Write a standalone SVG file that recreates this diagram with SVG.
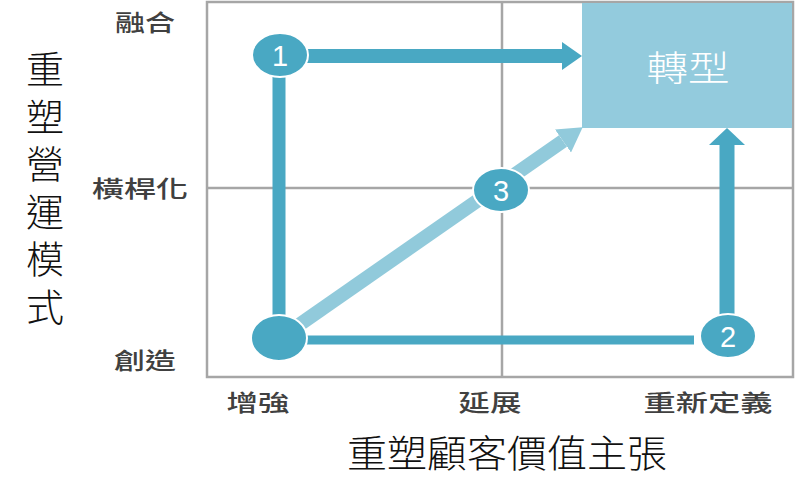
<svg xmlns="http://www.w3.org/2000/svg" width="800" height="501" viewBox="0 0 800 501">
<style>
.grid{fill:none;stroke:#a6a6a6;stroke-width:2.5}
.dark{stroke:#49a8c3;fill:none}
.light{stroke:#91cadb;fill:none}
.dot{fill:#49a8c3;stroke:#ffffff;stroke-width:2}
.num{font-family:"Liberation Sans",Arial,sans-serif;font-size:29px;fill:#ffffff;text-anchor:middle}
.lab{font-family:"Noto Sans CJK TC","Noto Sans CJK SC",sans-serif;font-size:23px;font-weight:500;fill:#404040;text-anchor:middle}
.title{font-family:"Noto Sans CJK TC","Noto Sans CJK SC",sans-serif;font-size:38px;font-weight:300;fill:#111111;text-anchor:middle}
</style>
<defs>
<marker id="headA" markerUnits="userSpaceOnUse" markerWidth="20" markerHeight="28" refX="0" refY="14" orient="auto"><path d="M0,0 L20,14 L0,28 Z" fill="#49a8c3"/></marker>
<marker id="headB" markerUnits="userSpaceOnUse" markerWidth="17" markerHeight="36" refX="0" refY="18" orient="auto"><path d="M0,0 L17,18 L0,36 Z" fill="#49a8c3"/></marker>
<marker id="headC" markerUnits="userSpaceOnUse" markerWidth="24" markerHeight="28" refX="0" refY="14" orient="auto"><path d="M0,0 L24,14 L0,28 Z" fill="#91cadb"/></marker>
</defs>
<rect width="800" height="501" fill="#ffffff"/>
<g id="grid">
<rect class="grid" x="207" y="2" width="586" height="375"/>
<line class="grid" x1="502" y1="2" x2="502" y2="377"/>
<line class="grid" x1="207" y1="188" x2="793" y2="188"/>
</g>
<g id="node-transform">
<rect x="582" y="3" width="210" height="125" fill="#93cbdd"/>
<text x="688" y="81" font-family="'Noto Sans CJK TC','Noto Sans CJK SC',sans-serif" font-size="35" font-weight="300" fill="#ffffff" text-anchor="middle" textLength="83" lengthAdjust="spacingAndGlyphs">轉型</text>
</g>
<g id="connectors">
<line class="dark" x1="279" y1="76" x2="279" y2="318" stroke-width="13"/>
<line class="dark" x1="306" y1="56" x2="562" y2="56" stroke-width="14" marker-end="url(#headA)"/>
<line class="dark" x1="306" y1="340" x2="694" y2="340" stroke-width="9"/>
<line class="dark" x1="727" y1="316" x2="727" y2="145" stroke-width="15" marker-end="url(#headB)"/>
<line class="light" x1="296" y1="327" x2="563" y2="141" stroke-width="14" marker-end="url(#headC)"/>
</g>
<g id="node-origin">
<ellipse class="dot" cx="279" cy="338" rx="28" ry="23"/>
</g>
<g id="node-1">
<ellipse class="dot" cx="280" cy="55" rx="28" ry="22"/>
<text class="num" x="280" y="66">1</text>
</g>
<g id="node-2">
<ellipse class="dot" cx="728" cy="336" rx="28" ry="22"/>
<text class="num" x="728" y="347">2</text>
</g>
<g id="node-3">
<ellipse class="dot" cx="501" cy="190" rx="28" ry="22"/>
<text class="num" x="501" y="201">3</text>
</g>
<g id="y-labels">
<text class="lab" x="145" y="31" textLength="60" lengthAdjust="spacingAndGlyphs">融合</text>
<text class="lab" x="140" y="197" textLength="96" lengthAdjust="spacingAndGlyphs">橫桿化</text>
<text class="lab" x="145" y="369" textLength="62" lengthAdjust="spacingAndGlyphs">創造</text>
</g>
<g id="x-labels">
<text class="lab" x="258" y="411" textLength="63" lengthAdjust="spacingAndGlyphs">增強</text>
<text class="lab" x="490" y="411" textLength="63" lengthAdjust="spacingAndGlyphs">延展</text>
<text class="lab" x="708" y="411" textLength="129" lengthAdjust="spacingAndGlyphs">重新定義</text>
</g>
<g id="y-title">
<text class="title" x="45" y="50" writing-mode="vertical-rl" letter-spacing="9.5" style="text-anchor:start">重塑營運模式</text>
</g>
<g id="x-title">
<text class="title" x="507" y="467" textLength="320" lengthAdjust="spacingAndGlyphs">重塑顧客價值主張</text>
</g>
</svg>
